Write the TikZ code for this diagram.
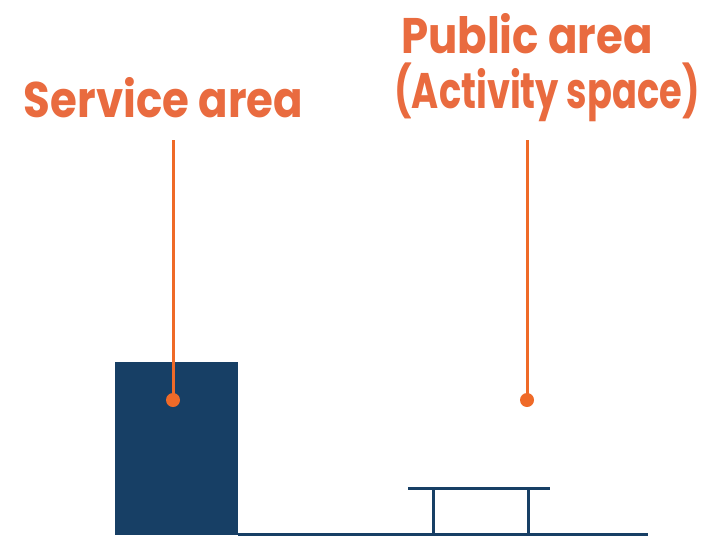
\documentclass[tikz,border=0pt]{standalone}
\usepackage{fontspec}
\setmainfont{Poppins}
\definecolor{labelorange}{HTML}{E96B3F}
\definecolor{lineorange}{HTML}{EF6A28}
\definecolor{navy}{HTML}{173F65}
\newcommand{\narrowtext}[2][0.87]{\scalebox{#1}[1]{#2}}
\begin{document}
\begin{tikzpicture}[x=1pt,y=-1pt,
  lbl/.style={text=labelorange,font=\fontsize{50}{56}\selectfont\bfseries,anchor=base,inner sep=0pt},
  leader/.style={draw=lineorange,line width=3pt},
  dotmark/.style={circle,fill=lineorange,minimum size=14pt,inner sep=0pt},
  structure/.style={draw=navy,line width=3pt}]
\useasboundingbox (0,0) rectangle (709,538);
\node[lbl] (service) at (163.5,117) {\narrowtext{Service area}};
\node[lbl] (public) at (527,53) {\narrowtext{Public area}};
\node[lbl] (activity) at (547,108) {\narrowtext[0.735]{(Activity space)}};
\fill[navy] (115,362) rectangle (238,535);
\draw[structure] (238,534) -- (648,534);
\draw[structure] (408,488) -- (550,488);
\draw[structure] (433,488) -- (433,534);
\draw[structure] (528,488) -- (528,534);
\coordinate (stop) at (173,140);
\coordinate (ptop) at (527,140);
\node[dotmark] (sdot) at (173,400) {};
\node[dotmark] (pdot) at (527,400) {};
\draw[leader] (stop) -- (sdot.center);
\draw[leader] (ptop) -- (pdot.center);
\end{tikzpicture}
\end{document}
